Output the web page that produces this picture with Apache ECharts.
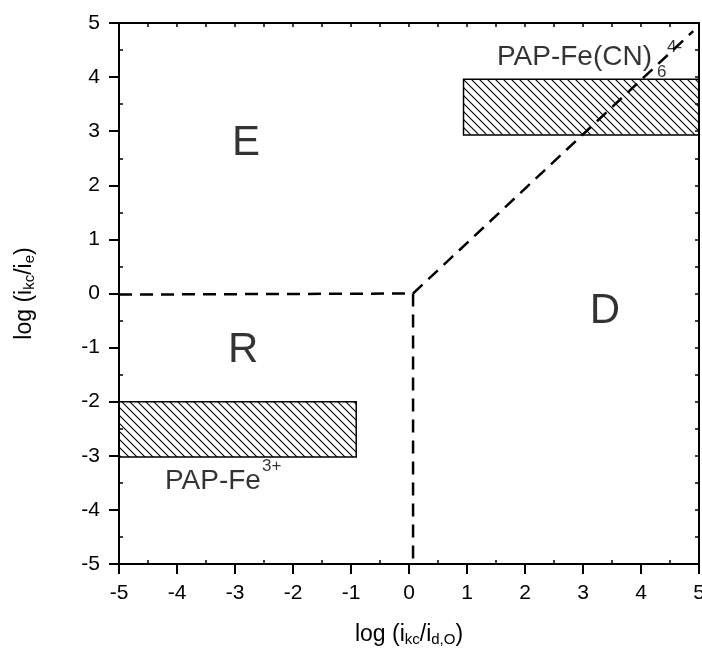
<!DOCTYPE html>
<html><head><meta charset="utf-8">
<script src="https://cdn.jsdelivr.net/npm/echarts@6/dist/echarts.min.js"></script>
<style>html,body{margin:0;padding:0;background:#fff}#c{width:702px;height:649px}</style>
</head><body><div id="c"></div>
<script>
// ---- data ----
const xRange = [-5, 5];
const yRange = [-5, 5];
const boundaryUpper = [[-5, -0.02], [0.07, 0], [4.9, 4.85]];
const boundaryLower = [[0.07, 0], [0.07, -5]];
// [xStart, xEnd, yStart, yEnd]
const boxFe3 = [-5, -0.91, -3.02, -2.0];
const boxFeCN = [0.94, 5, 2.93, 3.96];
const regionNames = ['E', 'R', 'D'];
const regionPos = [[-2.81, 2.78], [-2.86, -1.06], [3.38, -0.33]];
const annoTexts = ['PAP-Fe(CN)', '6', '4-', 'PAP-Fe', '3+'];
const annoPos = [[1.517, 4.37], [4.276, 4.085], [4.448, 4.556], [-4.207, -3.466], [-2.534, -3.19]];
const annoIsSmall = [false, true, true, false, true];

// ---- chart ----
const FONT = '"Liberation Sans", Arial, sans-serif';
function hatchCanvas() {
  const s = 8, c = document.createElement('canvas');
  c.width = s; c.height = s;
  const g = c.getContext('2d');
  g.strokeStyle = '#000'; g.lineWidth = 1.1;
  g.beginPath();
  g.moveTo(-2, -2); g.lineTo(s + 2, s + 2);
  g.moveTo(-2, s - 2); g.lineTo(2, s + 2);
  g.moveTo(s - 2, -2); g.lineTo(s + 2, 2);
  g.stroke();
  return c;
}
const hatch = hatchCanvas();
const chart = echarts.init(document.getElementById('c'), null, {renderer: 'canvas'});
const axisLine = {show: true, onZero: false, lineStyle: {color: '#000', width: 2}};
const nameRich = {
  n: {fontSize: 23, fontFamily: FONT, color: '#000', lineHeight: 24, verticalAlign: 'top'},
  s: {fontSize: 15, fontFamily: FONT, color: '#000', lineHeight: 15, verticalAlign: 'bottom', padding: [14, 0, 0, 0]}
};
const mainAxis = (pos, name, gap) => ({
  type: 'value', position: pos, min: xRange[0], max: xRange[1], interval: 1,
  axisLine, splitLine: {show: false},
  axisTick: {show: true, length: 10, lineStyle: {color: '#000', width: 2}},
  axisLabel: {show: true, fontSize: 21, fontFamily: FONT, color: '#000', margin: 19,
    showMinLabel: true, showMaxLabel: true},
  name, nameLocation: 'middle', nameGap: gap,
  nameTextStyle: {rich: nameRich}
});
const frameAxis = (pos) => ({
  type: 'value', position: pos, min: -5, max: 5, interval: 0.5,
  axisLine, splitLine: {show: false},
  axisTick: {show: true, inside: true, length: 4, lineStyle: {color: '#000', width: 1.5}},
  axisLabel: {show: false}
});
const minorAxis = (pos) => ({
  type: 'value', position: pos, min: -5, max: 5, interval: 1,
  axisLine: {show: false, onZero: false}, splitLine: {show: false},
  axisTick: {show: false, inside: true},
  minorTick: {show: true, splitNumber: 2, length: 4, lineStyle: {color: '#000', width: 1.5}},
  axisLabel: {show: false}
});

const option = {
  animation: false,
  backgroundColor: '#fff',
  grid: {left: 119, right: 3, top: 23, bottom: 85, outerBoundsMode: 'none', containLabel: false},
  xAxis: [
    mainAxis('bottom', '{n|log (i}{s|kc}{n|/i}{s|d,O}{n|)}', 59),
    frameAxis('top'),
    minorAxis('bottom')
  ],
  yAxis: [
    mainAxis('left', '{n|log (i}{s|kc}{n|/i}{s|e}{n|)}', 82),
    frameAxis('right'),
    minorAxis('left')
  ],
  series: [
    {type: 'line', data: boundaryUpper, symbol: 'none', silent: true,
     lineStyle: {color: '#000', width: 2.5, type: [13, 8]}},
    {type: 'line', data: boundaryLower, symbol: 'none', silent: true,
     lineStyle: {color: '#000', width: 2.5, type: [13, 8]}},
    {type: 'custom', data: [boxFe3, boxFeCN], encode: {x: [0, 1], y: [2, 3]}, z: 3,
     renderItem: (params, api) => {
       const p0 = api.coord([api.value(0), api.value(3)]);
       const p1 = api.coord([api.value(1), api.value(2)]);
       return {type: 'rect',
         shape: {x: p0[0], y: p0[1], width: p1[0] - p0[0], height: p1[1] - p0[1]},
         style: {fill: {image: hatch, repeat: 'repeat'}, stroke: '#000', lineWidth: 1.5}};
     }},
    {type: 'scatter', symbolSize: 0, silent: true, z: 5,
     data: regionNames.map((n, i) => ({name: n, value: regionPos[i]})),
     label: {show: true, position: 'inside', formatter: p => p.name, fontSize: 42, fontFamily: FONT, color: '#000'}},
    {type: 'scatter', symbolSize: 0, silent: true, z: 5,
     data: annoTexts.map((n, i) => ({name: n, value: annoPos[i],
       label: {fontSize: annoIsSmall[i] ? 17 : 28, color: '#000'}})),
     label: {show: true, position: 'right', distance: 0, formatter: p => p.name, fontFamily: FONT, color: '#000'}}
  ]
};
chart.setOption(option);
</script>
</body></html>
